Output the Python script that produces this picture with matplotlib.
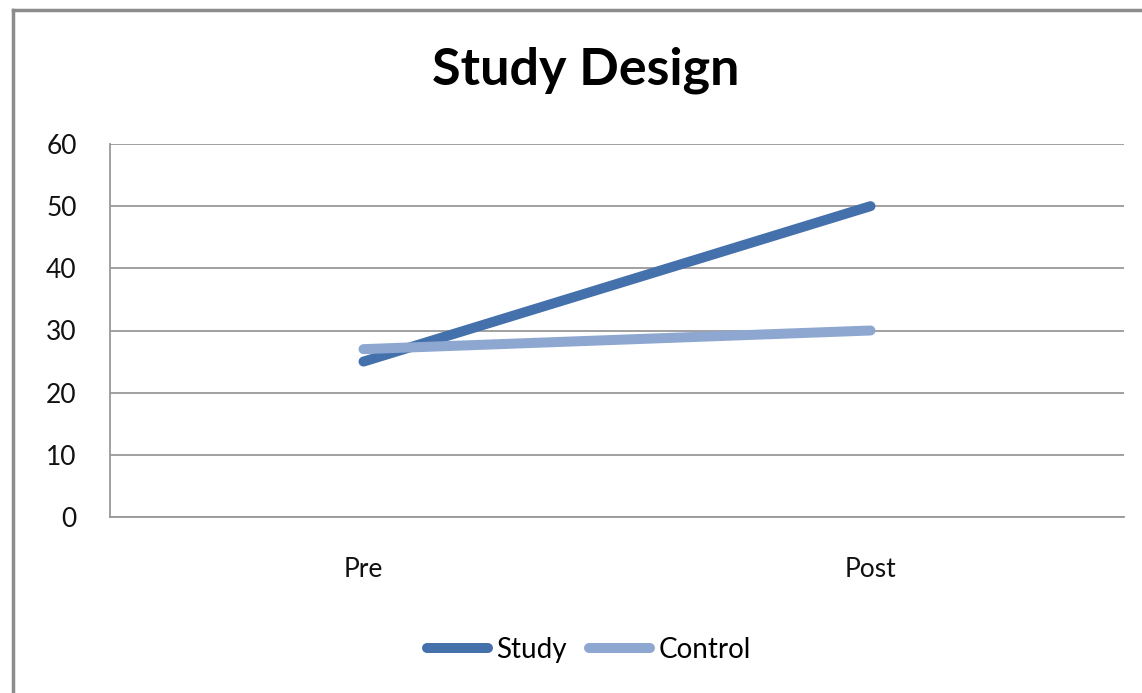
import matplotlib.pyplot as plt
from matplotlib.lines import Line2D

categories = ['Pre', 'Post']
study = [25, 50]
control = [27, 30]
yticks = [0, 10, 20, 30, 40, 50, 60]

plt.rcParams['font.family'] = ['Lato', 'DejaVu Sans']

fig = plt.figure(figsize=(11.42, 6.93), dpi=100)
ax = fig.add_axes([110 / 1142, 1 - 517 / 693, 1014 / 1142, 373 / 693])

x = range(len(categories))
ax.plot(x, study, color='#4470AB', lw=7.2, solid_capstyle='round', label='Study', zorder=3)
ax.plot(x, control, color='#8DA7D1', lw=7.2, solid_capstyle='round', label='Control', zorder=3)

ax.set_xlim(-0.5, 1.5)
ax.set_ylim(0, 60)
ax.set_yticks(yticks)
ax.set_xticks(list(x))
ax.set_xticklabels(categories)
ax.tick_params(axis='both', length=0, labelsize=19, colors='#111111')
ax.tick_params(axis='y', pad=24)
ax.tick_params(axis='x', pad=29)
ax.grid(axis='y', color='#999999', lw=1.3)
ax.set_axisbelow(True)
for s in ['top', 'right']:
    ax.spines[s].set_visible(False)
for s in ['left', 'bottom']:
    ax.spines[s].set_color('#999999')
    ax.spines[s].set_linewidth(1.3)

fig.text(586 / 1142, 1 - 70 / 693, 'Study Design', ha='center', va='center',
         fontsize=37.5, fontweight='bold')

# chart area border (left and top only visible)
fig.add_artist(Line2D([13 / 1142, 13 / 1142], [0, 1 - 10 / 693], color='#8c8c8c', lw=2.5))
fig.add_artist(Line2D([13 / 1142, 1], [1 - 10 / 693, 1 - 10 / 693], color='#8c8c8c', lw=2.5))

fig.legend(loc='center', bbox_to_anchor=(589 / 1142, 1 - 650 / 693), ncol=2,
           frameon=False, fontsize=20, handlelength=2.2, handletextpad=0.3,
           columnspacing=0.8)

fig.savefig('out.png', dpi=100)
